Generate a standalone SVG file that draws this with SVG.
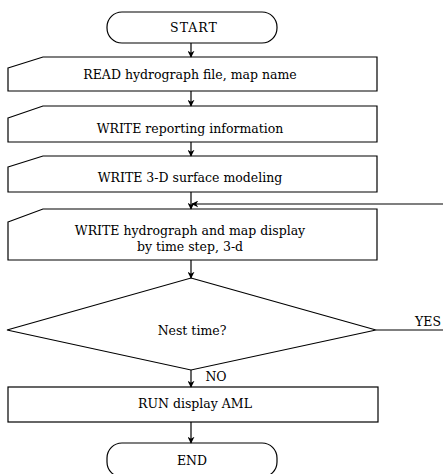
<svg xmlns="http://www.w3.org/2000/svg" width="443" height="474" viewBox="0 0 443 474">
<defs>
<marker id="ah" viewBox="0 0 10 10" refX="9" refY="5" markerWidth="7" markerHeight="7" orient="auto" markerUnits="userSpaceOnUse">
<path d="M0,0 L10,5 L0,10 L3,5 Z" fill="#000"/>
</marker>
</defs>
<style>
.s{fill:#fff;stroke:#000;stroke-width:1.2}
.t{font-family:"DejaVu Serif",serif;font-size:12.5px;fill:#000;text-anchor:middle}
.c{fill:none;stroke:#000;stroke-width:1.2}
</style>
<rect width="443" height="474" fill="#fff"/>
<g id="start"><rect class="s" x="107" y="12" width="170" height="31" rx="15"/><text class="t" x="194" y="32" letter-spacing="1">START</text></g>
<g id="read"><path class="s" d="M8,68 L43,57 L377,57 L377,91 L8,91 Z"/><text class="t" x="190" y="79">READ hydrograph file, map name</text></g>
<g id="report"><path class="s" d="M8,118 L43,106 L377,106 L377,142 L8,142 Z"/><text class="t" x="190" y="133">WRITE reporting information</text></g>
<g id="surface"><path class="s" d="M8,167 L43,156 L377,156 L377,192 L8,192 Z"/><text class="t" x="190" y="182">WRITE 3-D surface modeling</text></g>
<g id="display"><path class="s" d="M8,222 L43,209 L377,209 L377,260 L8,260 Z"/><text class="t" x="190" y="235">WRITE hydrograph and map display</text><text class="t" x="190" y="251">by time step, 3-d</text></g>
<g id="decision"><path class="s" d="M191,278 L376,330 L191,370 L7,330 Z"/><text class="t" x="192" y="335">Nest time?</text></g>
<g id="run"><rect class="s" x="8" y="387" width="370" height="35"/><text class="t" x="195" y="408">RUN display AML</text></g>
<g id="end"><rect class="s" x="107" y="443" width="170" height="34" rx="15"/><text class="t" x="192" y="465">END</text></g>
<g id="connectors">
<line class="c" x1="191" y1="43" x2="191" y2="57" marker-end="url(#ah)"/>
<line class="c" x1="191" y1="91" x2="191" y2="106" marker-end="url(#ah)"/>
<line class="c" x1="191" y1="142" x2="191" y2="156" marker-end="url(#ah)"/>
<line class="c" x1="191" y1="192" x2="191" y2="209" marker-end="url(#ah)"/>
<line class="c" x1="443" y1="204" x2="192" y2="204" marker-end="url(#ah)"/>
<line class="c" x1="191" y1="260" x2="191" y2="278" marker-end="url(#ah)"/>
<line class="c" x1="376" y1="330" x2="443" y2="330"/>
<text class="t" x="428" y="326">YES</text>
<line class="c" x1="191" y1="370" x2="191" y2="387" marker-end="url(#ah)"/>
<text class="t" x="216" y="381">NO</text>
<line class="c" x1="191" y1="422" x2="191" y2="443" marker-end="url(#ah)"/>
</g>
</svg>
